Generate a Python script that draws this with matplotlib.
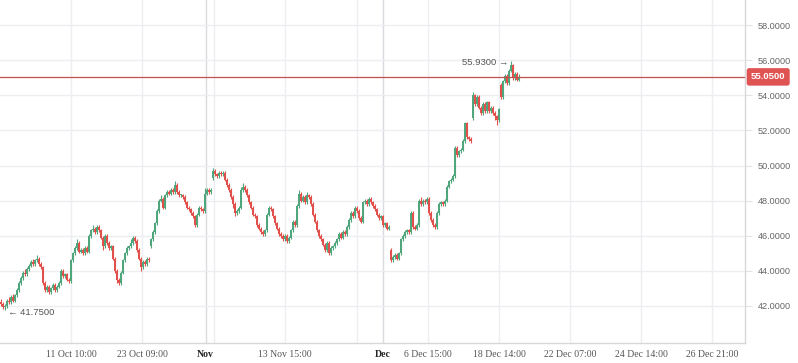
import matplotlib.pyplot as plt
import matplotlib.transforms as mtransforms
import numpy as np

# candle data, one candle per bar slot
opens = [
    42.2, 42.1, 41.95, 42.0, 42.3,   42.2, 42.5, 42.3, 42.6, 42.9,
    43.3, 43.6, 43.9, 43.8, 44.1,    44.3, 44.5, 44.4, 44.6, 44.7,
    44.4, 44.2, 43.3, 42.9, 43.1,    42.8, 43.0, 43.2, 42.9, 43.1,
    43.3, 44.0, 43.7, 43.8, 43.5,    43.4, 44.6, 45.0, 45.3, 45.6,
    45.1, 45.2, 45.0, 45.3, 45.1,    46.0, 46.3, 46.4, 46.2, 46.5,
    46.3, 45.9, 45.4, 46.0, 45.6,    45.3, 45.4, 44.7, 44.0, 43.5,
    43.3, 43.9, 44.6, 45.0, 45.3,    45.4, 45.6, 45.9, 45.7, 45.2,
    44.7, 44.2, 44.5, 44.4, 44.7,    45.4, 45.8, 46.2, 46.7, 47.4,
    48.0, 48.1, 47.6, 48.3, 48.5,    48.4, 48.6, 48.5, 48.9, 48.5,
    48.3, 48.3, 48.2, 47.9, 47.6,    47.5, 47.3, 47.1, 46.6, 47.2,
    47.6, 47.5, 47.4, 48.4, 48.6,    48.5, 49.3, 49.7, 49.5, 49.4,
    49.6, 49.5, 49.6, 49.2, 48.9,    48.6, 48.2, 47.8, 47.3, 47.4,
    47.6, 48.6, 48.8, 48.6, 48.3,    47.9, 47.6, 47.2, 47.1, 46.6,
    46.4, 46.2, 46.1, 46.3, 47.2,    47.6, 47.5, 47.1, 46.7, 46.4,
    46.1, 46.0, 45.8, 46.0, 45.7,    45.9, 46.3, 46.8, 46.6, 47.7,
    48.4, 48.0, 48.2, 47.9, 48.3,    48.2, 47.8, 47.2, 46.8, 46.3,
    46.0, 45.8, 45.5, 45.2, 45.6,    45.0, 45.3, 45.4, 45.6, 45.8,
    46.1, 45.9, 46.2, 46.1, 46.5,    46.9, 47.3, 47.1, 47.6, 47.4,
    47.0, 46.8, 47.9, 48.0, 47.8,    48.1, 47.9, 47.7, 47.5, 47.2,
    47.0, 47.1, 46.6, 46.7, 46.4,    45.2, 44.6, 44.8, 44.9, 44.7,
    45.0, 45.8, 46.0, 46.2, 46.3,    46.2, 47.3, 46.5, 46.4, 46.6,
    48.0, 47.8, 48.0, 47.9, 48.1,    47.3, 46.9, 46.6, 46.5, 47.3,
    47.8, 47.9, 47.8, 48.0, 48.8,    49.1, 49.2, 49.4, 51.0, 50.6,
    50.8, 50.9, 51.4, 52.4, 51.6,    51.5, 52.7, 54.0, 53.5, 53.9,
    53.3, 53.0, 53.5, 53.1, 53.6,    53.1, 53.3, 53.0, 52.8, 52.6,
    54.6, 53.9, 54.8, 55.1, 54.7,    55.4, 55.7, 55.0, 55.2, 54.9,
]
closes = [
    42.1, 41.95, 42.0, 42.3, 42.2,   42.5, 42.3, 42.6, 42.9, 43.3,
    43.6, 43.9, 43.8, 44.1, 44.3,    44.5, 44.4, 44.6, 44.7, 44.4,
    44.2, 43.3, 42.9, 43.1, 42.8,    43.0, 43.2, 42.9, 43.1, 43.3,
    44.0, 43.7, 43.8, 43.5, 43.4,    44.6, 45.0, 45.3, 45.6, 45.1,
    45.2, 45.0, 45.3, 45.1, 46.0,    46.3, 46.4, 46.2, 46.5, 46.3,
    45.9, 45.4, 46.0, 45.6, 45.3,    45.4, 44.7, 44.0, 43.5, 43.3,
    43.9, 44.6, 45.0, 45.3, 45.4,    45.6, 45.9, 45.7, 45.2, 44.7,
    44.2, 44.5, 44.4, 44.7, 44.6,    45.8, 46.2, 46.7, 47.4, 48.0,
    48.1, 47.6, 48.3, 48.5, 48.4,    48.6, 48.5, 48.9, 48.5, 48.3,
    48.3, 48.2, 47.9, 47.6, 47.5,    47.3, 47.1, 46.6, 47.2, 47.6,
    47.5, 47.4, 48.4, 48.6, 48.5,    48.6, 49.7, 49.5, 49.4, 49.6,
    49.5, 49.6, 49.2, 48.9, 48.6,    48.2, 47.8, 47.3, 47.4, 47.6,
    48.6, 48.8, 48.6, 48.3, 47.9,    47.6, 47.2, 47.1, 46.6, 46.4,
    46.2, 46.1, 46.3, 47.2, 47.6,    47.5, 47.1, 46.7, 46.4, 46.1,
    46.0, 45.8, 46.0, 45.7, 45.9,    46.3, 46.8, 46.6, 47.7, 48.4,
    48.0, 48.2, 47.9, 48.3, 48.2,    47.8, 47.2, 46.8, 46.3, 46.0,
    45.8, 45.5, 45.2, 45.6, 45.0,    45.3, 45.4, 45.6, 45.8, 46.1,
    45.9, 46.2, 46.1, 46.5, 46.9,    47.3, 47.1, 47.6, 47.4, 47.0,
    46.8, 47.9, 48.0, 47.8, 48.1,    47.9, 47.7, 47.5, 47.2, 47.0,
    47.1, 46.6, 46.7, 46.4, 46.5,    44.6, 44.8, 44.9, 44.7, 45.0,
    45.8, 46.0, 46.2, 46.3, 46.2,    47.3, 46.5, 46.4, 46.6, 48.0,
    47.8, 48.0, 47.9, 48.1, 47.3,    46.9, 46.6, 46.5, 47.3, 47.8,
    47.9, 47.8, 48.0, 48.8, 49.1,    49.2, 49.4, 51.0, 50.6, 50.8,
    50.9, 51.4, 52.4, 51.6, 51.5,    51.4, 54.0, 53.5, 53.9, 53.3,
    53.0, 53.5, 53.1, 53.6, 53.1,    53.3, 53.0, 52.8, 52.6, 53.2,
    53.9, 54.8, 55.1, 54.7, 55.4,    55.7, 55.0, 55.2, 54.9, 55.05,
]
highs = [
    42.4, 42.2, 42.1, 42.4, 42.5,    42.6, 42.7, 42.7, 43.0, 43.4,
    43.7, 44.0, 44.1, 44.2, 44.4,    44.6, 44.7, 44.7, 44.9, 44.8,
    44.5, 44.3, 43.4, 43.2, 43.2,    43.1, 43.3, 43.3, 43.2, 43.4,
    44.1, 44.1, 43.9, 43.9, 43.6,    44.7, 45.1, 45.4, 45.8, 45.7,
    45.3, 45.3, 45.4, 45.4, 46.1,    46.4, 46.6, 46.5, 46.6, 46.6,
    46.4, 46.0, 46.1, 46.1, 45.7,    45.5, 45.5, 44.8, 44.1, 43.6,
    44.0, 44.7, 45.1, 45.4, 45.5,    45.8, 46.0, 46.0, 45.8, 45.3,
    44.8, 44.6, 44.6, 44.8, 44.8,    45.9, 46.3, 46.8, 47.5, 48.1,
    48.3, 48.2, 48.4, 48.6, 48.6,    48.7, 48.7, 49.1, 49.0, 48.6,
    48.4, 48.4, 48.3, 48.0, 47.7,    47.6, 47.4, 47.2, 47.3, 47.7,
    47.7, 47.6, 48.7, 48.7, 48.7,    48.7, 49.86, 49.8, 49.6, 49.7,
    49.7, 49.7, 49.7, 49.3, 49.0,    48.7, 48.3, 47.9, 47.5, 47.7,
    48.8, 49.0, 48.9, 48.7, 48.4,    48.0, 47.7, 47.3, 47.2, 46.7,
    46.5, 46.3, 46.4, 47.3, 47.7,    47.7, 47.6, 47.2, 46.8, 46.5,
    46.2, 46.1, 46.1, 46.1, 46.0,    46.4, 46.9, 46.9, 47.8, 48.6,
    48.5, 48.3, 48.3, 48.5, 48.4,    48.3, 47.9, 47.3, 46.9, 46.4,
    46.1, 45.9, 45.6, 45.7, 45.7,    45.4, 45.5, 45.7, 45.9, 46.2,
    46.2, 46.3, 46.3, 46.6, 47.0,    47.4, 47.4, 47.7, 47.7, 47.5,
    47.1, 48.0, 48.1, 48.1, 48.2,    48.2, 48.0, 47.8, 47.6, 47.3,
    47.2, 47.2, 46.8, 46.8, 46.6,    45.3, 44.9, 45.0, 45.0, 45.1,
    45.9, 46.1, 46.3, 46.4, 46.4,    47.4, 47.4, 46.6, 46.7, 48.1,
    48.2, 48.1, 48.1, 48.2, 48.2,    47.4, 47.0, 46.7, 47.4, 47.9,
    48.0, 48.0, 48.1, 48.9, 49.2,    49.3, 49.5, 51.1, 51.1, 50.9,
    51.0, 51.5, 52.5, 52.5, 51.7,    51.6, 54.2, 54.1, 54.0, 54.0,
    53.4, 53.6, 53.6, 53.7, 53.7,    53.4, 53.4, 53.1, 52.9, 53.3,
    54.7, 54.9, 55.2, 55.2, 55.5,    55.93, 55.8, 55.3, 55.3, 55.2,
]
lows = [
    42.0, 41.8, 41.75, 41.9, 42.1,   42.1, 42.2, 42.2, 42.5, 42.8,
    43.2, 43.5, 43.7, 43.7, 44.0,    44.2, 44.3, 44.3, 44.5, 44.3,
    44.1, 43.2, 42.8, 42.8, 42.7,    42.7, 42.9, 42.8, 42.8, 43.0,
    43.2, 43.6, 43.6, 43.4, 43.3,    43.3, 44.5, 44.9, 45.2, 45.0,
    45.0, 44.9, 44.9, 45.0, 45.0,    45.9, 46.2, 46.1, 46.1, 46.2,
    45.8, 45.2, 45.3, 45.5, 45.2,    45.2, 44.6, 43.9, 43.3, 43.2,
    43.2, 43.8, 44.5, 44.9, 45.2,    45.3, 45.5, 45.6, 45.1, 44.6,
    44.0, 44.1, 44.3, 44.3, 44.5,    45.3, 45.7, 46.1, 46.6, 47.3,
    47.9, 47.5, 47.5, 48.2, 48.3,    48.3, 48.4, 48.4, 48.4, 48.2,
    48.2, 48.1, 47.8, 47.5, 47.4,    47.2, 47.0, 46.5, 46.5, 47.1,
    47.4, 47.3, 47.3, 48.3, 48.4,    48.4, 49.2, 49.4, 49.3, 49.3,
    49.4, 49.4, 49.1, 48.8, 48.5,    48.1, 47.6, 47.1, 47.2, 47.3,
    47.5, 48.5, 48.5, 48.2, 47.8,    47.5, 47.1, 47.0, 46.5, 46.3,
    46.1, 46.0, 46.0, 46.2, 47.1,    47.4, 47.0, 46.6, 46.3, 46.0,
    45.9, 45.7, 45.7, 45.6, 45.6,    45.8, 46.2, 46.5, 46.5, 47.6,
    47.9, 47.9, 47.8, 47.8, 48.1,    47.7, 47.1, 46.7, 46.2, 45.9,
    45.7, 45.4, 45.1, 45.1, 44.9,    44.9, 45.2, 45.3, 45.5, 45.7,
    45.8, 45.8, 46.0, 46.0, 46.4,    46.8, 47.0, 47.0, 47.3, 46.9,
    46.7, 46.7, 47.8, 47.7, 47.7,    47.8, 47.6, 47.4, 47.1, 46.9,
    46.9, 46.5, 46.5, 46.3, 46.3,    44.5, 44.5, 44.7, 44.6, 44.6,
    44.9, 45.7, 45.9, 46.1, 46.1,    46.1, 46.4, 46.3, 46.3, 46.5,
    47.7, 47.7, 47.8, 47.8, 47.2,    46.8, 46.5, 46.4, 46.4, 47.2,
    47.7, 47.7, 47.7, 47.9, 48.7,    49.0, 49.1, 49.3, 50.5, 50.5,
    50.7, 50.8, 51.3, 51.5, 51.4,    51.3, 52.6, 53.4, 53.4, 53.2,
    52.9, 52.9, 53.0, 53.0, 53.0,    53.0, 52.9, 52.6, 52.3, 52.5,
    53.8, 53.8, 54.7, 54.6, 54.6,    55.3, 54.9, 54.9, 54.8, 54.8,
]

y_ticks = [42, 44, 46, 48, 50, 52, 54, 56, 58]
# time axis labels (bar-index positions)
x_tick_pos = [35, 70.5, 102.35, 142, 191, 213.5, 249, 284.5, 320, 355.5]
x_tick_labels = ['11 Oct 10:00', '23 Oct 09:00', 'Nov', '13 Nov 15:00', 'Dec',
                 '6 Dec 15:00', '18 Dec 14:00', '22 Dec 07:00', '24 Dec 14:00', '26 Dec 21:00']
x_grid_pos = [35, 70.5, 106.5, 142, 178, 213.5, 249, 284.5, 320, 355.5]
month_pos = [102.35, 191]
last_price = 55.05

green = '#4fa57c'
red = '#e2504c'

o = np.array(opens)
c = np.array(closes)
h = np.array(highs)
l = np.array(lows)
x = np.arange(len(c))
cols = np.where(c >= o, green, red)

fig = plt.figure(figsize=(7.98, 3.63), dpi=100)
ax = fig.add_axes([0, 20 / 363, 745 / 798, 343 / 363])

for gx in x_grid_pos:
    ax.axvline(gx, color='#eceef2', lw=1, zorder=0)
for gx in month_pos:
    ax.axvline(gx, color='#d8dbe0', lw=1, zorder=0)
for gy in y_ticks:
    ax.axhline(gy, color='#eceef2', lw=1, zorder=0)

ax.vlines(x, l, h, colors=cols, lw=0.8, zorder=2)
body = np.maximum(np.abs(c - o), 0.05)
ax.bar(x, body, bottom=np.minimum(o, c), width=0.75, color=cols, lw=0, zorder=3)

ax.axhline(last_price, color='#c0504e', lw=0.9, zorder=4)

ax.set_xlim(-0.5, 372)
ax.set_ylim(39.89, 59.43)

ax.yaxis.tick_right()
ax.set_yticks(y_ticks, ['%.4f' % v for v in y_ticks])
ax.tick_params(axis='y', length=5, color='#e3e3e3', pad=4, labelsize=6.6,
               labelcolor='#666666')
for t in ax.get_yticklabels():
    t.set_fontfamily('Liberation Sans')

ax.set_xticks(x_tick_pos, x_tick_labels)
ax.tick_params(axis='x', length=0, pad=5, labelsize=7, labelcolor='#555555')
for t in ax.get_xticklabels():
    t.set_fontfamily('Liberation Serif')
    if t.get_text() in ('Nov', 'Dec'):
        t.set_fontweight('bold')
        t.set_color('#222222')

for s in ('top', 'left'):
    ax.spines[s].set_visible(False)
for s in ('right', 'bottom'):
    ax.spines[s].set_color('#d8d8d8')
    ax.spines[s].set_linewidth(1)

# last price tag on the price scale
trans = mtransforms.blended_transform_factory(ax.transAxes, ax.transData)
ax.text(1.008, last_price, '%.4f' % last_price, transform=trans, ha='left', va='center',
        fontsize=6.8, color='white', fontweight='bold', family='Liberation Sans',
        bbox=dict(boxstyle='round,pad=0.45,rounding_size=0.25', fc='#e05353', ec='none'),
        clip_on=False, zorder=6)

# high / low markers
i_hi = int(np.argmax(h))
i_lo = int(np.argmin(l))
ax.text(i_hi - 1.5, h[i_hi] - 0.05, '%.4f \u2192' % h[i_hi], ha='right', va='center',
        fontsize=6.8, color='#555555', family=['Liberation Sans', 'DejaVu Sans'], zorder=5)
ax.text(i_lo + 1.5, l[i_lo] - 0.15, '\u2190 %.4f' % l[i_lo], ha='left', va='center',
        fontsize=6.8, color='#555555', family=['Liberation Sans', 'DejaVu Sans'], zorder=5)

fig.savefig('out.png', dpi=100)
